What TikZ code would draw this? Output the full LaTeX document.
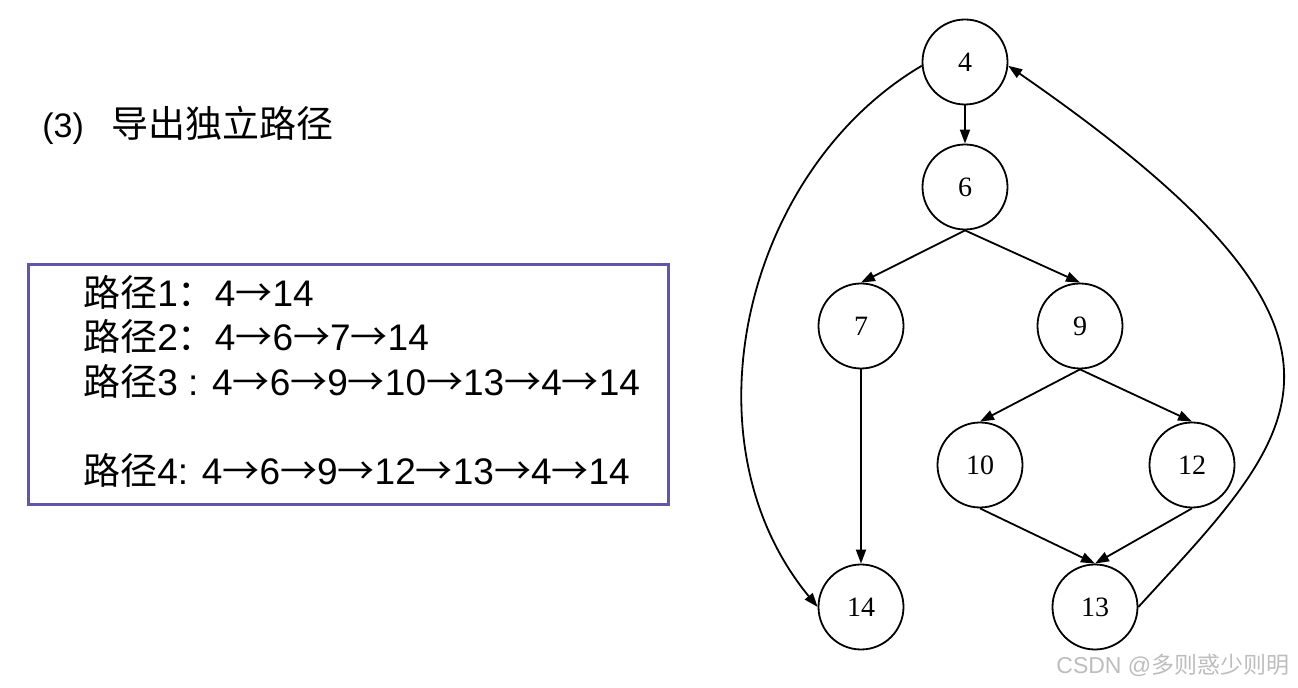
\documentclass[tikz,border=0pt]{standalone}
\usepackage{fontspec}
\setmainfont{Liberation Sans}
\newfontfamily\cjk{Noto Sans CJK SC}
\newfontfamily\graphfont{Liberation Serif}
\usetikzlibrary{arrows.meta}
\definecolor{boxPurple}{HTML}{6355A8}
\definecolor{markGray}{HTML}{BDBDBD}
\newcommand{\nx}{{\cjk →}}

\begin{document}
\begin{tikzpicture}[x=0.5pt,y=-0.5pt,
  vertex/.style={draw,circle,line width=0.9pt,minimum size=42.5pt,inner sep=0pt,font=\graphfont\fontsize{14}{14}\selectfont},
  link/.style={-{Triangle[length=7pt,width=5pt]},line width=0.9pt},
  frame/.style={draw=boxPurple,line width=1.5pt,minimum width=320pt,minimum height=120pt,inner sep=0pt},
  pathline/.style={anchor=base west,inner sep=0pt,font=\fontsize{18.5}{18.5}\selectfont}]
\useasboundingbox (0,0) rectangle (1298,688);

\node[anchor=base west,inner sep=0pt,font=\fontsize{17}{17}\selectfont] (title) at (42,138) {(3)\hspace{14pt}{\cjk\fontsize{18.5}{18.5}\selectfont 导出独立路径}};

% paths box
\node[frame] (pathbox) at (348,385) {};
\node[pathline] (p1) at (83,307) {{\cjk 路径}1{\cjk ：}4\nx14};
\node[pathline] (p2) at (83,351) {{\cjk 路径}2{\cjk ：}4\nx6\nx7\nx14};
\node[pathline] (p3) at (83,396) {{\cjk 路径}3 : 4\nx6\nx9\nx10\nx13\nx4\nx14};
\node[pathline] (p4) at (83,485) {{\cjk 路径}4: 4\nx6\nx9\nx12\nx13\nx4\nx14};

% flow graph
\node[vertex] (n4) at (965,62) {4};
\node[vertex] (n6) at (965,187) {6};
\node[vertex] (n7) at (861,326) {7};
\node[vertex] (n9) at (1080,326) {9};
\node[vertex] (n10) at (980,465) {10};
\node[vertex] (n12) at (1192,465) {12};
\node[vertex] (n14) at (861,607) {14};
\node[vertex] (n13) at (1095,607) {13};

\draw[link] (n4) -- (n6);
\draw[link] (n6.south) -- (n7.north);
\draw[link] (n6.south) -- (n9.north);
\draw[link] (n7) -- (n14);
\draw[link] (n9.south) -- (n10.north);
\draw[link] (n9.south) -- (n12.north);
\draw[link] (n10.south) -- (n13.north);
\draw[link] (n12.south) -- (n13.north);
\draw[link] (n4.185) .. controls (745,170) and (680,440) .. (n14.west);
\draw[link] (n13.east) .. controls (1300,430) and (1405,340) .. (n4.355);

\node[anchor=base west,inner sep=0pt,text=markGray,font=\fontsize{11.5}{11.5}\selectfont] (mark) at (1056,674) {CSDN @{\cjk 多则惑少则明}};
\end{tikzpicture}
\end{document}
